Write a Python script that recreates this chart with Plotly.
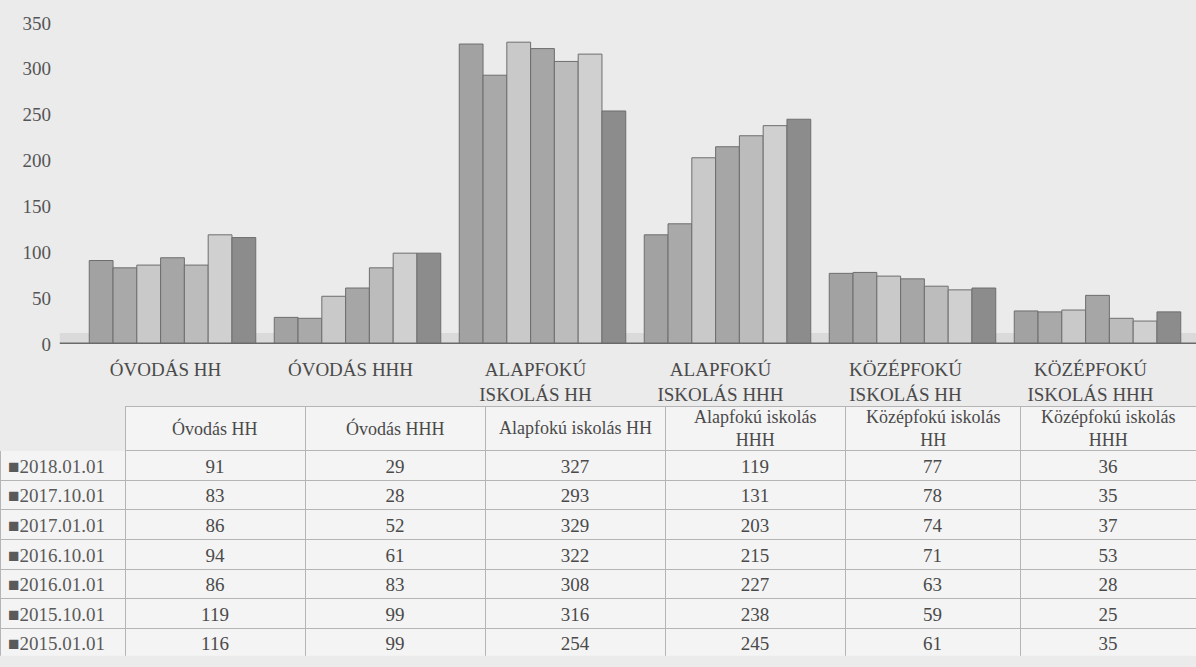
import plotly.graph_objects as go

categories_axis = ["ÓVODÁS HH", "ÓVODÁS HHH", "ALAPFOKÚ<br>ISKOLÁS HH", "ALAPFOKÚ<br>ISKOLÁS HHH",
                   "KÖZÉPFOKÚ<br>ISKOLÁS HH", "KÖZÉPFOKÚ<br>ISKOLÁS HHH"]
categories_table = ["Óvodás HH", "Óvodás HHH", "Alapfokú iskolás HH", "Alapfokú iskolás<br>HHH",
                    "Középfokú iskolás<br>HH", "Középfokú iskolás<br>HHH"]
dates = ["2018.01.01", "2017.10.01", "2017.01.01", "2016.10.01", "2016.01.01", "2015.10.01", "2015.01.01"]

v_2018_01 = [91, 29, 327, 119, 77, 36]
v_2017_10 = [83, 28, 293, 131, 78, 35]
v_2017_01 = [86, 52, 329, 203, 74, 37]
v_2016_10 = [94, 61, 322, 215, 71, 53]
v_2016_01 = [86, 83, 308, 227, 63, 28]
v_2015_10 = [119, 99, 316, 238, 59, 25]
v_2015_01 = [116, 99, 254, 245, 61, 35]
series = [v_2018_01, v_2017_10, v_2017_01, v_2016_10, v_2016_01, v_2015_10, v_2015_01]

colors = ["#a2a2a2", "#a9a9a9", "#c9c9c9", "#a6a6a6", "#bcbcbc", "#d0d0d0", "#8c8c8c"]
y_ticks = [0, 50, 100, 150, 200, 250, 300, 350]

FONT = "Liberation Serif"
W, H = 1196, 667
col_px = [125, 180, 180, 180, 180, 175, 176]

fig = go.Figure()

for d, vals, c in zip(dates, series, colors):
    fig.add_trace(go.Bar(
        x=categories_axis, y=vals, name=d,
        marker=dict(color=c, line=dict(color="#6e6e6e", width=1)),
        xaxis="x", yaxis="y", showlegend=False,
    ))

# table
cols = [["■" + d for d in dates]]
for i in range(len(categories_table)):
    cols.append([s[i] for s in series])

fig.add_trace(go.Table(
    domain=dict(x=[0, 1], y=[0, 0.386]),
    columnwidth=col_px,
    header=dict(
        values=[""] * 7,
        fill=dict(color=["#ebebeb"] + ["#f4f4f4"] * 6),
        line=dict(color=["#ebebeb"] + ["#b5b5b5"] * 6, width=1),
        font=dict(family=FONT, size=18, color="#4a4a4a"),
        align="center", height=44,
    ),
    cells=dict(
        values=cols,
        fill=dict(color="#f4f4f4"),
        line=dict(color="#b5b5b5", width=1),
        font=dict(family=FONT, size=19, color=["#5a5a5a"] + ["#4a4a4a"] * 6),
        align=["left"] + ["center"] * 6, height=29.6,
    ),
))

# header texts centered in their columns
x_left = col_px[0]
for i, t in enumerate(categories_table):
    w = col_px[i + 1]
    fig.add_annotation(x=(x_left + w / 2) / W, y=(H - 432) / H, xref="paper", yref="paper",
                       xanchor="center", yanchor="middle",
                       text=t, showarrow=False, align="center",
                       font=dict(family=FONT, size=18, color="#4a4a4a"))
    x_left += w

fig.add_shape(type="rect", xref="paper", yref="y", x0=0.05, x1=1, y0=0, y1=12,
              fillcolor="#dadada", line=dict(width=0), layer="below")
fig.add_shape(type="line", xref="paper", yref="y", x0=0.05, x1=1, y0=0, y1=0,
              line=dict(color="#6a6a6a", width=3))

fig.update_layout(
    width=W, height=H,
    margin=dict(l=0, r=0, t=0, b=0),
    paper_bgcolor="#ebebeb", plot_bgcolor="rgba(0,0,0,0)",
    barmode="group", bargap=0.1, bargroupgap=0,
    font=dict(family=FONT, size=18, color="#4a4a4a"),
    xaxis=dict(domain=[80 / W, 1190 / W], anchor="y", showline=False,
               tickfont=dict(family=FONT, size=19, color="#4a4a4a"), ticks="", showgrid=False,
               ticklabelstandoff=12, ticklabelshift=-7),
    yaxis=dict(domain=[0.483, 0.98], range=[0, 350], tickvals=y_ticks, showgrid=False,
               zeroline=False, tickfont=dict(family=FONT, size=19, color="#555555"), ticks="",
               ticklabelstandoff=28),
)

fig.write_html("out.html", config={"displayModeBar": False},
               post_script="document.body.style.margin='0';document.body.style.background='#ebebeb';")
